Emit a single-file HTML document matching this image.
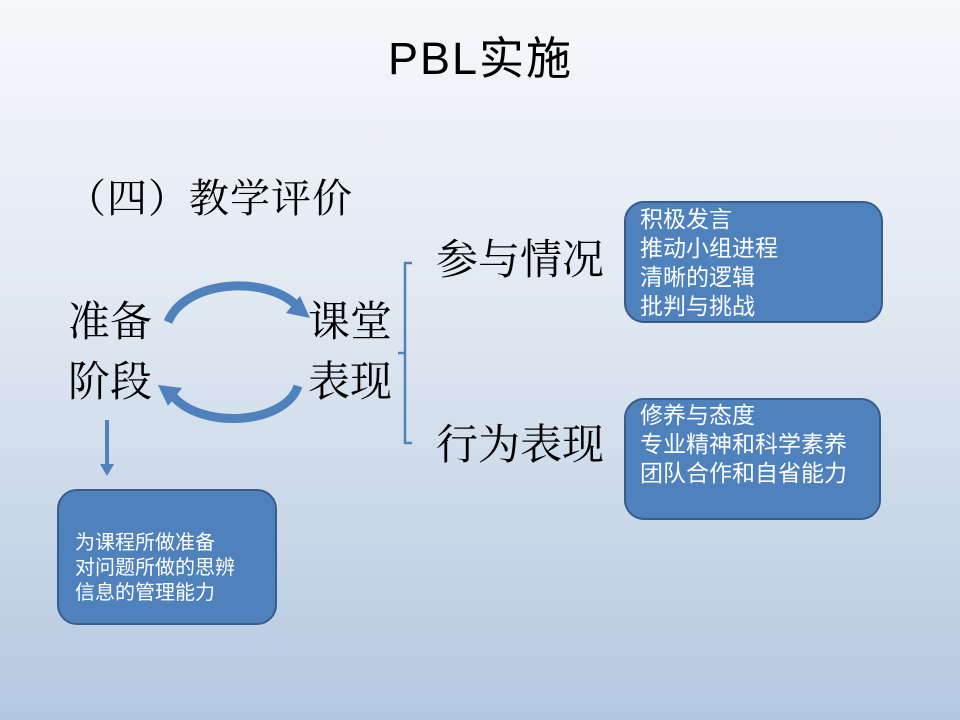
<!DOCTYPE html>
<html><head><meta charset="utf-8"><style>
body{margin:0}
#p{position:relative;width:960px;height:720px;overflow:hidden;background:linear-gradient(#f6f8fb 0%,#dfe7f1 45%,#b4c8e0 100%);font-family:"Liberation Sans","Noto Sans CJK SC",sans-serif;color:#000}
.t{position:absolute;white-space:nowrap;line-height:1}
.s{font-family:"Liberation Serif","Noto Serif CJK SC",serif}
.box{position:absolute;background:#4f81bd;border:2px solid #385d8a;border-radius:20px;color:#fff;box-sizing:border-box}
</style></head><body><div id="p">
<div class="t" style="left:388px;top:36px;font-size:45px;letter-spacing:2px">PBL实施</div>
<div class="t s" style="left:66px;top:179px;font-size:40px;letter-spacing:1px">（四）教学评价</div>
<div class="t s" style="left:68px;top:302px;font-size:42px">准备</div>
<div class="t s" style="left:68px;top:362px;font-size:42px">阶段</div>
<div class="t s" style="left:308px;top:302px;font-size:42px">课堂</div>
<div class="t s" style="left:308px;top:362px;font-size:42px">表现</div>
<div class="t s" style="left:436px;top:240px;font-size:42px">参与情况</div>
<div class="t s" style="left:436px;top:425px;font-size:42px">行为表现</div>
<svg width="960" height="720" style="position:absolute;left:0;top:0">
<path d="M412 263 H405 V443 H412 M405 353 H398" fill="none" stroke="#4f81bd" stroke-width="2.5"/>
<path d="M168 322 C185 280 265 275 296 305" fill="none" stroke="#4f81bd" stroke-width="9"/>
<polygon points="286,313 310,318 300,296" fill="#4f81bd"/>
<path d="M298 386 C285 425 200 430 172 395" fill="none" stroke="#4f81bd" stroke-width="9"/>
<polygon points="182,388 158,385 168,406" fill="#4f81bd"/>
<line x1="107" y1="420" x2="107" y2="466" stroke="#4f81bd" stroke-width="4"/>
<polygon points="100,464 114,464 107,476" fill="#4f81bd"/>
</svg>
<div class="box" style="left:624px;top:201px;width:259px;height:122px;padding:2px 0 0 14px;font-size:23px;line-height:29px">积极发言<br>推动小组进程<br>清晰的逻辑<br>批判与挑战</div>
<div class="box" style="left:624px;top:398px;width:257px;height:122px;padding:1px 0 0 14px;font-size:23px;line-height:29px">修养与态度<br>专业精神和科学素养<br>团队合作和自省能力</div>
<div class="box" style="left:57px;top:489px;width:220px;height:136px;padding:40px 0 0 16px;font-size:20px;line-height:25px">为课程所做准备<br>对问题所做的思辨<br>信息的管理能力</div>
</div></body></html>
